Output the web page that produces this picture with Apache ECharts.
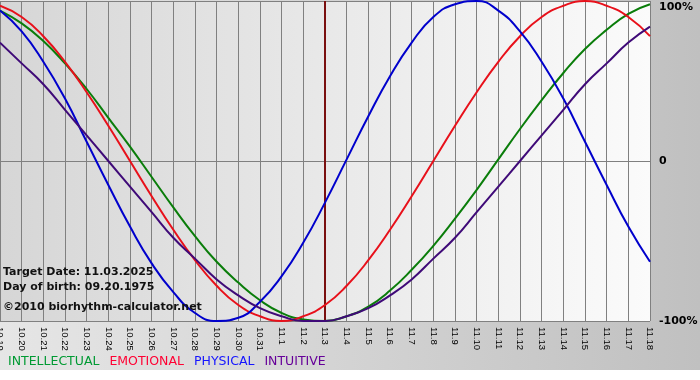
<!DOCTYPE html>
<html>
<head>
<meta charset="utf-8">
<script src="https://cdn.jsdelivr.net/npm/echarts@6/dist/echarts.min.js"></script>
<style>html,body{margin:0;padding:0;background:#fff}#c{width:700px;height:380px}</style>
</head>
<body>
<div id="c"></div>
<script>
var days = ['10.19','10.20','10.21','10.22','10.23','10.24','10.25','10.26','10.27','10.28','10.29','10.30','10.31',
  '11.1','11.2','11.3','11.4','11.5','11.6','11.7','11.8','11.9','11.10','11.11','11.12','11.13','11.14','11.15','11.16','11.17','11.18'];
var yTicks = {'100':'100%','0':'0','-100':'-100%'};
var targetDay = '11.3';
var intellectual = [94,86,75,61,45,27,9,-10,-29,-47,-63,-76,-87,-95,-99,-100,-97,-91,-81,-68,-53,-36,-18,1,20,38,55,70,82,92,98];
var emotional = [97,90,78,62,43,22,0,-22,-43,-62,-78,-90,-97,-100,-97,-90,-78,-62,-43,-22,0,22,43,62,78,90,97,100,97,90,78];
var physical = [94,81,62,39,12,-15,-41,-64,-82,-95,-100,-98,-88,-72,-51,-26,1,28,53,74,90,98,100,94,81,62,39,12,-15,-41,-63];
var intuitive = [74,61,48,32,16,0,-16,-32,-48,-61,-74,-84,-92,-97,-100,-100,-97,-92,-84,-74,-61,-48,-32,-16,0,16,32,48,61,74,84];
var names = ['INTELLECTUAL','EMOTIONAL','PHYSICAL','INTUITIVE'];

var lineColors = ['#0a7d0a','#e8101a','#0000cc','#3f0a78'];
var legendColors = ['#009a33','#ff0033','#1414ff','#660099'];
var chart = echarts.init(document.getElementById('c'), null, {renderer:'canvas'});
var seriesData = [intellectual, emotional, physical, intuitive];
var series = seriesData.map(function(d, i){
  var s = {name:names[i], type:'line', data:d, smooth:true, showSymbol:false, symbol:'none',
    lineStyle:{color:lineColors[i], width:2}, itemStyle:{color:lineColors[i]}, z:3+i};
  return s;
});
series[0].markLine = {silent:true, symbol:'none', label:{show:false},
  lineStyle:{color:'#7a0f0f', width:2, type:'solid'}, data:[{xAxis:targetDay}], z:2};
var txtFont = 'bold 11px "DejaVu Sans"';
chart.setOption({
  animation:false,
  backgroundColor:{type:'linear',x:0,y:0,x2:1,y2:0,colorStops:[{offset:0,color:'#e6e6e6'},{offset:1,color:'#c0c0c0'}]},
  grid:{left:0, right:50, top:1, bottom:59, show:true, borderWidth:0, containLabel:false, outerBoundsMode:'none',
    backgroundColor:{type:'linear',x:0,y:0,x2:1,y2:0,colorStops:[{offset:0,color:'#d6d6d6'},{offset:1,color:'#fbfbfb'}]}},
  legend:{show:true, left:3, top:355, padding:0, icon:'none', itemWidth:0, itemHeight:10, itemGap:5,
    textStyle:{fontFamily:'DejaVu Sans', fontSize:12.5},
    data:names.map(function(n,i){return {name:n, textStyle:{color:legendColors[i]}};})},
  xAxis:{type:'category', data:days, boundaryGap:false,
    axisLine:{lineStyle:{color:'#808080', width:1}},
    axisTick:{show:true, length:4, lineStyle:{color:'#808080'}, interval:0},
    splitLine:{show:true, interval:0, lineStyle:{color:'#808080', width:1}},
    axisLabel:{rotate:-90, interval:0, margin:6, color:'#000', fontFamily:'Liberation Sans', fontSize:9.5}},
  yAxis:{type:'value', position:'right', min:-100, max:100, interval:100,
    axisLine:{show:false}, axisTick:{show:false},
    splitLine:{show:true, lineStyle:{color:'#808080', width:1}},
    axisLabel:{margin:9, color:'#000', fontFamily:'DejaVu Sans', fontWeight:'bold', fontSize:11,
      formatter:function(v){ var t = yTicks[String(v)]; return v===100 ? '{t|'+t+'}' : t; },
      rich:{t:{padding:[12,0,0,0], fontFamily:'DejaVu Sans', fontWeight:'bold', fontSize:11, color:'#000'}}}},
  graphic:[
    {type:'rect', z:100, shape:{x:0,y:370,width:700,height:10}, style:{fill:'#ffffff'}, silent:true},
    {type:'text', z:100, style:{text:'Target Date: 11.03.2025', x:3, y:272, font:txtFont, fill:'#111', verticalAlign:'middle'}},
    {type:'text', z:100, style:{text:'Day of birth: 09.20.1975', x:3, y:287, font:txtFont, fill:'#111', verticalAlign:'middle'}},
    {type:'text', z:100, style:{text:'\u00a92010 biorhythm-calculator.net', x:3, y:307, font:txtFont, fill:'#111', verticalAlign:'middle'}}
  ],
  series:series
});
</script>
</body>
</html>
